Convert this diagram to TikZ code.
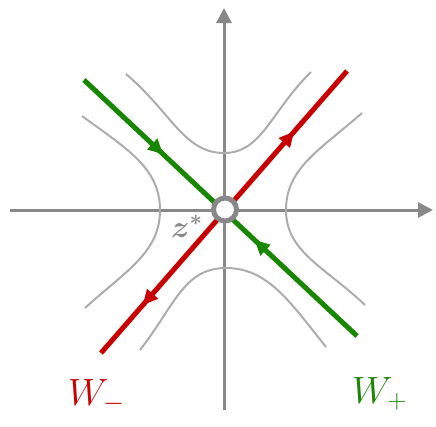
\RequirePackage{fix-cm}
\documentclass[tikz,border=0pt]{standalone}
\usepackage{amsmath}
\usetikzlibrary{arrows.meta,decorations.markings}
\definecolor{axgray}{RGB}{136,136,136}
\definecolor{hypgray}{RGB}{172,172,172}
\definecolor{myred}{RGB}{200,0,0}
\definecolor{mygreen}{RGB}{24,135,0}
\tikzset{
  axis/.style={draw=axgray, line width=3pt, -{Triangle[length=15pt,width=15pt]}},
  traj/.style={draw=hypgray, line width=2pt},
  manif/.style={line width=5pt},
  headfwd/.style={postaction={decorate, decoration={markings, mark=at position #1 with {\arrow{Triangle[length=15pt,width=14pt]}}}}},
  headback/.style={postaction={decorate, decoration={markings, mark=at position #1 with {\arrow{Triangle[length=15pt,width=14pt,reversed]}}}}},
  biglabel/.style={font=\fontsize{38}{42}\selectfont, inner sep=0pt},
}
\begin{document}
\begin{tikzpicture}[x=1pt,y=-1pt]
\useasboundingbox (0,0) rectangle (436,426);
% axes
\coordinate (xl) at (10,210);
\coordinate (xr) at (433,210);
\coordinate (yb) at (224,410);
\coordinate (yt) at (224,8);
\draw[axis] (xl) -- (xr);
\draw[axis] (yb) -- (yt);
% trajectories (hyperbolas)
\draw[traj] (126,74) .. controls (171,112) and (184,153) .. (224,153)
            .. controls (262,153) and (271,111) .. (311,72);
\draw[traj] (140,350) .. controls (175,305) and (184,268) .. (226,268)
            .. controls (268,268) and (290,302) .. (326,347);
\draw[traj] (82,116) .. controls (127,149) and (160,168) .. (160,210)
            .. controls (160,252) and (127,270) .. (85,308);
\draw[traj] (362,113) .. controls (320,150) and (286,168) .. (286,210)
            .. controls (286,252) and (325,267) .. (365,305);
% manifolds
\coordinate (g1) at (84,80);
\coordinate (g2) at (357,336);
\coordinate (r1) at (101,353);
\coordinate (r2) at (347,71);
\draw[manif, mygreen, headfwd=0.29, headback=0.665] (g1) -- (g2);
\draw[manif, myred, headback=0.21, headfwd=0.785] (r1) -- (r2);
% equilibrium
\node[circle, draw=axgray, fill=white, line width=5pt, minimum size=23pt, inner sep=0pt] (zs) at (225,209.5) {};
\node[text=axgray, font=\fontsize{31}{33}\selectfont\boldmath, inner sep=0pt, anchor=base west] (zl) at (171,237) {$\boldsymbol{z}^{*}$};
% labels
\node[biglabel, text=myred, anchor=base west] (wm) at (68,405) {$W_-$};
\node[biglabel, text=mygreen, anchor=base west] (wp) at (352,403) {$W_+$};
\end{tikzpicture}
\end{document}
